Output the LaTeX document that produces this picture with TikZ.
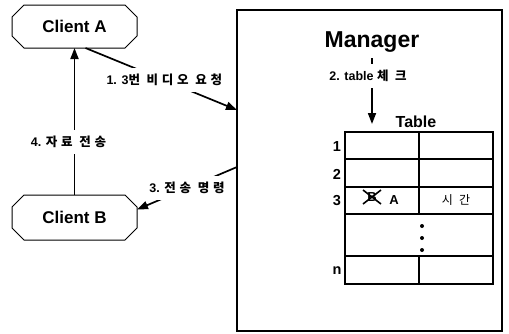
\documentclass[tikz,border=0pt]{standalone}
\usepackage{fontspec}
\setmainfont{Liberation Sans}
\newfontfamily\krfont{Noto Sans CJK KR}[LetterSpace=30]
\usetikzlibrary{arrows.meta}
\newcommand\ko[1]{{\krfont\bfseries #1}}
\newcommand\kolight[1]{{\krfont #1}}

\begin{document}
\begin{tikzpicture}[x=1pt,y=-1pt,
  client/.style={minimum width=125pt, minimum height=43pt, inner sep=0pt, outer sep=0pt,
    font=\bfseries\fontsize{17}{17}\selectfont},
  octline/.style={line width=1pt},
  frame/.style={draw, line width=1.4pt, inner sep=0pt, outer sep=0pt},
  flow/.style={line width=1.7pt, -{Triangle[length=11pt,width=8pt]}},
  lbl/.style={fill=white, inner xsep=3pt, inner ysep=6pt, font=\bfseries\fontsize{12.5}{14}\selectfont},
  rowno/.style={inner sep=0pt, font=\bfseries\fontsize{14.5}{14.5}\selectfont},
  grid/.style={line width=1.3pt},
  cell/.style={inner sep=0pt, font=\bfseries\fontsize{13}{13}\selectfont}]

\useasboundingbox (0,0) rectangle (509,333);

% clients
\node[client] (clientA) at (74.5,26.5) {Client A};
\node[client, minimum height=45pt] (clientB) at (74.5,217.5) {Client B};
\foreach \n in {clientA,clientB}{
  \draw[octline] ([xshift=12pt]\n.north west) -- ([xshift=-12pt]\n.north east)
    -- ([yshift=-12pt]\n.north east) -- ([yshift=12pt]\n.south east)
    -- ([xshift=-12pt]\n.south east) -- ([xshift=12pt]\n.south west)
    -- ([yshift=12pt]\n.south west) -- ([yshift=-12pt]\n.north west) -- cycle;
}

% manager box
\node[frame, minimum width=265pt, minimum height=321pt] (manager) at (369.5,170.5) {};
\node[inner sep=0pt, anchor=base, font=\bfseries\fontsize{23}{23}\selectfont] (title) at (372,47) {Manager};

% table
\node[inner sep=0pt, anchor=base, font=\bfseries\fontsize{16}{16}\selectfont] (tabtitle) at (416,127) {Table};
\draw[grid] (345,132) rectangle (493,284);
\foreach \yy in {159,187,214,256} \draw[grid] (345,\yy) -- (493,\yy);
\draw[grid] (419,132) -- (419,214);
\draw[grid] (419,256) -- (419,284);

\node[rowno] (r1) at (337,147) {1};
\node[rowno] (r2) at (337,174) {2};
\node[rowno] (r3) at (337,201) {3};
\node[rowno] (rn) at (337,271) {n};

\node[cell] (oldB) at (372,197) {B};
\draw[line width=1.6pt] (363,190) -- (381,204) (381,190) -- (363,204);
\node[cell] (cellA) at (394,200) {A};
\node[inner sep=0pt, font=\fontsize{12}{12}\selectfont] (cellT) at (456,200) {\kolight{시\hspace{6pt}간}};

\foreach \yy in {226,238,250} \fill (422,\yy) circle (2pt);

% message flow
\coordinate (chk) at (372,124);
\draw[flow] ([yshift=-6pt]title.south) -- node[lbl, pos=0.27, xshift=-4pt] {2. table \ko{체 크}} (chk);
\draw[flow] ([xshift=11pt]clientA.south) -- node[lbl, pos=0.52] {1. 3\ko{번 비디오 요청}} (manager.west |- 0,110);
\draw[flow] (manager.west |- 0,167) -- node[lbl, pos=0.5] {3. \ko{전송 명령}} ([yshift=8pt]clientB.east);
\draw[flow] (clientB.north) -- node[lbl, pos=0.36, xshift=-6pt] {4. \ko{자료 전송}} (clientA.south);

\end{tikzpicture}
\end{document}
